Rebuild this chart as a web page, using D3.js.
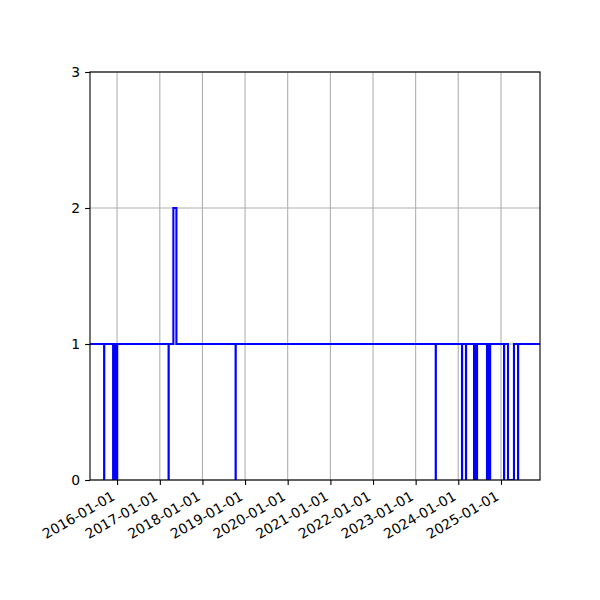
<!DOCTYPE html>
<html>
<head>
<meta charset="utf-8">
<script src="https://cdn.jsdelivr.net/npm/d3@7"></script>
<style>
  body { margin: 0; background: #fff; }
</style>
</head>
<body>
<svg width="600" height="600"></svg>
<script>
// change points of the step series (value holds until the next date)
const changeDates = [
  "2015-05-14", "2015-09-12", "2015-09-13",
  "2015-11-28", "2015-11-29", "2015-12-15", "2015-12-16", "2016-01-01", "2016-01-02",
  "2017-03-17", "2017-03-18", "2017-04-27", "2017-05-23",
  "2018-10-12", "2018-10-13", "2023-06-22", "2023-06-23",
  "2024-02-02", "2024-02-03", "2024-03-07", "2024-03-08",
  "2024-05-15", "2024-05-16", "2024-05-28", "2024-05-29", "2024-06-09", "2024-06-10",
  "2024-09-03", "2024-09-04", "2024-09-16", "2024-09-17", "2024-09-29", "2024-09-30",
  "2025-01-27", "2025-01-28", "2025-03-02", "2025-04-22",
  "2025-05-27", "2025-05-28", "2025-12-01"
];
const changeValues = [
  1, 0, 1,
  0, 1, 0, 1, 0, 1,
  0, 1, 2, 1,
  0, 1, 0, 1,
  0, 1, 0, 1,
  0, 1, 0, 1, 0, 1,
  0, 1, 0, 1, 0, 1,
  0, 1, 0, 1,
  0, 1, 1
];
const yTicks = [0, 1, 2, 3];
const xTickYears = [2016, 2017, 2018, 2019, 2020, 2021, 2022, 2023, 2024, 2025];

const parse = d3.utcParse("%Y-%m-%d");
const data = changeDates.map((d, i) => ({ date: parse(d), value: changeValues[i] }));

const svg = d3.select("svg");
const mLeft = 90, mRight = 540, mTop = 72, mBottom = 480;
const font = "'DejaVu Sans', sans-serif";

const x = d3.scaleUtc()
  .domain([parse("2015-05-14"), parse("2025-12-01")])
  .range([mLeft, mRight]);
const y = d3.scaleLinear().domain([0, 3]).range([mBottom, mTop]);

const xTicks = xTickYears.map(yr => new Date(Date.UTC(yr, 0, 1)));

// grid
svg.append("g").selectAll("line")
  .data(xTicks)
  .join("line")
  .attr("x1", d => x(d)).attr("x2", d => x(d))
  .attr("y1", mTop).attr("y2", mBottom)
  .attr("stroke", "#b0b0b0").attr("stroke-width", 1.1);
svg.append("g").selectAll("line")
  .data(yTicks)
  .join("line")
  .attr("x1", mLeft).attr("x2", mRight)
  .attr("y1", d => y(d)).attr("y2", d => y(d))
  .attr("stroke", "#b0b0b0").attr("stroke-width", 1.1);

// step line
const line = d3.line()
  .x(d => x(d.date))
  .y(d => y(d.value))
  .curve(d3.curveStepAfter);

svg.append("defs").append("clipPath").attr("id", "clip")
  .append("rect").attr("x", mLeft).attr("y", mTop)
  .attr("width", mRight - mLeft).attr("height", mBottom - mTop);

svg.append("path")
  .datum(data)
  .attr("clip-path", "url(#clip)")
  .attr("fill", "none")
  .attr("stroke", "#0000ff")
  .attr("stroke-width", 2.1)
  .attr("d", line);

// axes
const xAxis = svg.append("g")
  .attr("transform", `translate(0,${mBottom})`)
  .call(d3.axisBottom(x).tickValues(xTicks).tickFormat(d3.utcFormat("%Y-%m-%d"))
    .tickSize(4.9).tickPadding(0))
  .attr("font-family", font);
xAxis.select(".domain").remove();
xAxis.selectAll(".tick line").attr("stroke", "#000").attr("stroke-width", 1.1);
xAxis.selectAll(".tick text")
  .attr("font-size", "13.9px")
  .attr("fill", "#000")
  .attr("text-anchor", "end")
  .attr("dy", null)
  .attr("y", null)
  .attr("transform", "translate(-1.6,19) rotate(-30)");

const yAxis = svg.append("g")
  .attr("transform", `translate(${mLeft},0)`)
  .call(d3.axisLeft(y).tickValues(yTicks).tickFormat(d3.format("d"))
    .tickSize(4.9).tickPadding(4.9))
  .attr("font-family", font);
yAxis.select(".domain").remove();
yAxis.selectAll(".tick line").attr("stroke", "#000").attr("stroke-width", 1.1);
yAxis.selectAll(".tick text").attr("font-size", "13.9px").attr("fill", "#000");

// spines
svg.append("rect")
  .attr("x", mLeft).attr("y", mTop)
  .attr("width", mRight - mLeft).attr("height", mBottom - mTop)
  .attr("fill", "none").attr("stroke", "#000").attr("stroke-width", 1.1);
</script>
</body>
</html>
